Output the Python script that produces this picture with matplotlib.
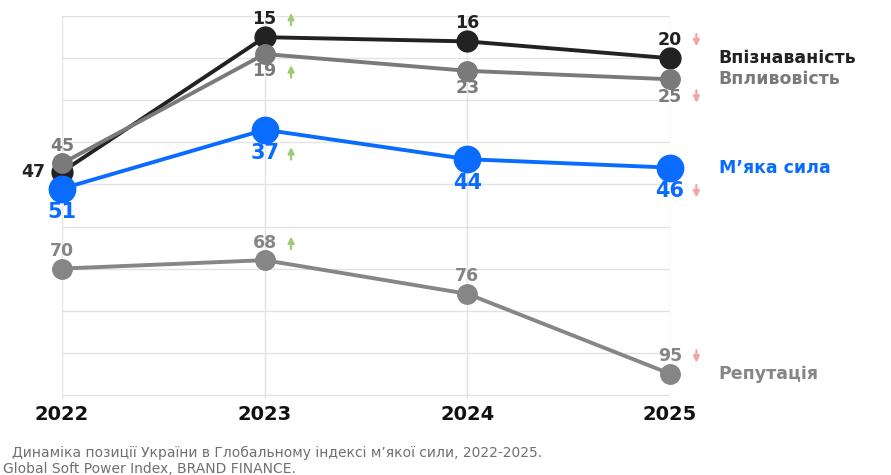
import matplotlib.pyplot as plt
from matplotlib.transforms import offset_copy

years = [2022, 2023, 2024, 2025]
recognition = [47, 15, 16, 20]
influence = [45, 19, 23, 25]
soft_power = [51, 37, 44, 46]
reputation = [70, 68, 76, 95]

series_names = ["Впізнаваність", "Впливовість", "М’яка сила", "Репутація"]
# where the rank label sits relative to the point
recognition_pos = ["left", "above", "above", "above"]
influence_pos = ["above", "below", "below", "below"]
soft_power_pos = ["below", "below", "below", "below"]
reputation_pos = ["above", "above", "above", "above"]
# change marks next to the labels
trend = [None, "up", None, "down"]

caption = "Динаміка позиції України в Глобальному індексі м’якої сили, 2022-2025."
source = "Global Soft Power Index, BRAND FINANCE."

plt.rcParams["font.family"] = "DejaVu Sans"
fig = plt.figure(figsize=(8.91, 4.75), dpi=100)
ax = fig.add_axes([0.0696, 0.16, 0.6824, 0.806])

styles = [
    (recognition, recognition_pos, "#222222", 15, 12.5, 13),
    (influence, influence_pos, "#7a7a7a", 14, 12.5, 12.5),
    (soft_power, soft_power_pos, "#0a6cff", 19, 15, 17),
    (reputation, reputation_pos, "#868686", 14, 12.5, 12.5),
]

for name, (vals, pos, color, ms, fs, off) in zip(series_names, styles):
    ax.plot(years, vals, color=color, lw=2.8, marker="o", markersize=ms,
            clip_on=False, zorder=3)
    for x, v, p, t in zip(years, vals, pos, trend):
        if p == "left":
            dx, dy = -21, 0
        else:
            dx, dy = 0, (off if p == "above" else -off)
        ax.annotate(str(v), (x, v), xytext=(dx, dy), textcoords="offset points",
                    ha="center", va="center", fontsize=fs, fontweight="bold",
                    color=color, zorder=4)
        if t is not None:
            up = t == "up"
            tip = offset_copy(ax.transData, fig=fig, x=19,
                              y=dy + (4.5 if up else -4.5), units="points")
            ax.annotate("", xy=(x, v), xycoords=tip,
                        xytext=(0, -9 if up else 9), textcoords="offset points",
                        arrowprops=dict(arrowstyle="-|>", lw=1.6,
                                        mutation_scale=9, shrinkA=0, shrinkB=0,
                                        color="#9ccc78" if up else "#f2a5a5"),
                        annotation_clip=False, zorder=4)
    ax.annotate(name, (years[-1], vals[-1]), xytext=(35, 0),
                textcoords="offset points", ha="left", va="center",
                fontsize=12.5, fontweight="bold", color=color)

ax.set_xlim(2022, 2025)
ax.set_ylim(101, 10)
ax.set_xticks(years)
ax.set_xticklabels([str(y) for y in years], fontsize=14, fontweight="bold",
                   color="#111111")
ax.set_yticks(range(10, 101, 10))
ax.set_yticklabels([])
ax.tick_params(length=0, pad=4)
ax.grid(True, color="#e3e3e3", lw=1)
for s in ax.spines.values():
    s.set_visible(False)

fig.text(0.013, 0.046, caption, fontsize=10, color="#707070", va="center")
fig.text(0.003, 0.012, source, fontsize=10, color="#707070", va="center")

fig.savefig("out.png", dpi=100)
